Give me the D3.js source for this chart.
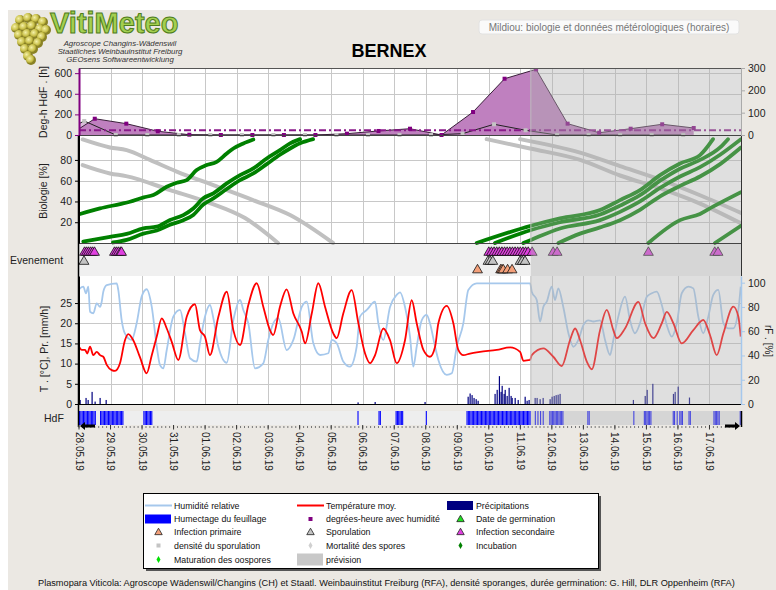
<!DOCTYPE html>
<html>
<head>
<meta charset="utf-8">
<script src="https://cdn.jsdelivr.net/npm/d3@7"></script>
<style>
  body { margin: 0; background: #fff; }
  text { font-family: "Liberation Sans", Arial, sans-serif; }
</style>
</head>
<body>
<svg id="chart"></svg>
<script>
// ---- data (hours counted from 28.05.19 00:00) ----
const startDay = new Date(2019, 4, 28);
const endDay = new Date(2019, 5, 18);
const forecastHour = 344;

// degree-hours with leaf wetness (purple) and second series (grey markers)
const degPurple = [[0,60],[12,158],[36,110],[60,36],[84,3],[108,0],[132,0],[156,0],[180,0],[204,13],[228,39],[252,61],[276,0],[300,223],[324,546],[348,637],[372,110],[396,22],[420,61],[444,104],[468,68]];
const degGrey = [[0,110],[4,136],[28,0],[52,0],[76,0],[100,0],[124,0],[148,0],[172,0],[196,0],[220,0],[244,0],[268,0],[292,13],[316,104],[340,46],[364,0],[388,0],[412,0],[436,0],[460,0]];
const degThreshold = 45;

// biology curves [hour, %]
const sporeGrey1 = [[2.8,99.7],[23.6,92],[36.3,89.4],[54,80],[74.4,68.8],[104.8,54.5],[132.5,41.3],[160.7,26.9],[193.4,0]];
const sporeGrey2 = [[2.8,75],[23.6,67],[35.8,64.4],[69.3,51],[99.7,38.5],[126.4,24],[151.5,0]];
const sporeGrey3 = [[310.4,100],[343.4,91],[381.5,80],[411.9,65],[442.4,52.6],[472.8,38],[504,19]];
const sporeGrey4 = [[335.8,100],[381.5,87],[411.9,74],[442.4,61],[472.8,46],[504,29]];
const incubA = [[0.8,27.9],[16,33.3],[31.2,37.5],[38.8,39.7],[49.3,44],[56.6,46.2],[66.8,54.1],[74.4,58],[82,60.6],[89.6,70.2],[97.2,75],[104.8,78.2],[112.5,86.2],[117.5,91],[125.1,95.9],[132.7,99.7]];
const incubB1 = [[3.3,1.3],[23.6,6],[36.3,8.7],[49,14.1],[59.2,15.7],[69.3,22.1],[79.4,26.9],[87,33.3],[94.6,43],[102.3,47.8],[112.5,57.4],[122.6,65.4],[132.7,71.8],[142.9,81.4],[153,89.4],[160.7,95.9],[168.3,100]];
const incubB2 = [[25.9,0.5],[36.3,3],[49,9],[59.2,12],[69.3,17.5],[79.4,22],[87,27],[94.6,37],[102.3,43],[112.5,52],[122.6,60.5],[132.7,67],[142.9,76],[153,85],[160.7,91],[168.3,96],[178.2,100]];
const incubC1 = [[302.8,0],[344.1,16.6],[366.2,23.7],[396.7,31.7],[411.9,41.3],[427.1,51],[442.4,65.4],[457.6,76.6],[472.8,84.6],[482.7,100]];
const incubC2 = [[316.7,0],[344.1,12.5],[366.2,20],[396.7,27.5],[411.9,36],[427.1,46],[442.4,60],[457.6,71.5],[472.8,80],[488.1,92],[494.1,100]];
const incubC3 = [[338.3,0],[344.1,3],[366.2,14],[396.7,22],[411.9,30],[427.1,40],[442.4,53],[457.6,64],[472.8,73],[488.1,85],[504,100]];
const incubC4 = [[365,0],[381.5,9],[396.7,15],[411.9,22],[427.1,32],[442.4,45],[457.6,55],[472.8,64],[488.1,76],[504,92]];
const incubD = [[433.5,0],[457.6,22],[472.8,28],[482.7,35],[504,49]];
const incubE = [[484.2,0],[504,16.6]];

// events
const infSecondaire = [4.2,5.7,7.2,8.8,10.3,11.8,27,28.5,30,31.6,32.4,312,314,316,318,320,322,324,326,328,330,332,334,336,338,340,342,345,361,364,433.5,484,486.5];
const sporulation = [3.8,311.4,313,315,335.8,337.5,339.6];
const infPrimaire = [303.4,321,322,323,326.3,329.7];

// weather [hour, value]
const temperature = [[0,14.2],[2.1,13.4],[4.6,13.4],[6.3,12.5],[8.4,14.2],[10.9,12.1],[13.5,12.9],[16,12.1],[18.5,11.7],[21.1,9.7],[24.9,8.4],[27.4,8.2],[31.2,10.1],[35,15.8],[37.5,17.3],[41.3,15.8],[46.4,11.6],[51.5,7.6],[55.4,12.1],[59.2,16.7],[63,21.2],[66.8,18.7],[70.6,15.4],[75.6,10.9],[82,21.6],[88.3,24.7],[92.1,18.3],[95.9,16.7],[99.7,12.1],[106.1,21.6],[112.5,27.8],[117.5,18.3],[122.6,14.6],[128.9,24.5],[135.3,29.9],[140.3,24.1],[145.4,18.3],[147.9,17.1],[153,24.1],[158.1,28.4],[163.2,22.4],[169.6,17.9],[172.1,15],[177.2,22.4],[182.2,29.9],[187.3,24.1],[193.6,17.5],[196.2,16.3],[201.2,22.4],[207.6,28.2],[212.7,20],[217.8,12.5],[221.6,10.1],[225.4,12.1],[231.7,18.7],[236.8,15.8],[241.9,10.1],[248.2,15.8],[253.3,25.7],[257.1,20],[262.2,13.4],[267.2,11.7],[271.1,14.2],[273.6,20],[280,24.3],[285,20],[288.8,13.4],[292.6,12.1],[297.7,12.5],[305.3,12.9],[318,13.4],[328.2,14],[335.8,12.9],[338.3,10.7],[343.4,10.9],[344.7,12.1],[353.5,13.8],[361.1,11.7],[367.5,9.4],[373.8,15.8],[377.7,18.7],[381.5,15.8],[386.6,10.5],[390.4,8.6],[396.7,18.3],[401.8,23.3],[406.8,18.3],[409.4,16.3],[415.7,18.7],[425.9,25.3],[431,20],[437.3,16.3],[443.7,20],[447.5,22.8],[452.5,20],[458.9,15],[467.7,18.3],[475.3,20.8],[480.4,17.1],[485.5,12.1],[490.6,17.5],[498.2,24.1],[502,21.6],[503.8,16.7]];
const humidity = [[0,94.6],[3.3,96.7],[5.3,91.3],[7.1,96.7],[8.4,76],[10.9,74.8],[13.5,83],[16,80],[17.3,84.3],[18.5,92.6],[21.1,98],[28.7,99.5],[29.9,94],[32.5,69],[35,58],[40.1,52.8],[43.9,66.5],[47.7,88.5],[51.5,94.6],[55.4,80],[59.2,47.2],[61.7,32],[64.2,29.4],[66.8,44.5],[71.8,72],[76.9,77.5],[80.7,58.3],[84.5,37.7],[89.6,35],[92.1,50],[95.9,72],[99.7,81.6],[102.3,70.7],[106.1,47.2],[112.5,34],[117.5,69],[122.6,85.7],[125.1,77.5],[128.9,66.5],[134,29.4],[140.3,33.5],[144.1,52.8],[147.9,66.5],[151.7,70.7],[158.1,44.5],[163.2,52.8],[169.6,80],[173.4,84.3],[178.4,50],[183.5,40.4],[189.8,41.8],[192.4,52.8],[196.2,50],[201.2,35],[206.3,30.8],[211.4,47.2],[213.9,72],[219.1,77.5],[225.4,84.3],[227.9,66.5],[231.7,52.8],[236.8,80],[241.9,90],[244.4,92],[248.2,80],[252,55.5],[254.5,30.8],[257.1,47.2],[260.9,69],[264.7,73.4],[267.2,66.5],[271.1,47.2],[273.6,36.3],[280,24],[283.8,25.3],[287.6,47.2],[292.6,66.5],[296.4,94],[302.8,99.5],[343.4,99.5],[344.7,92.6],[348.5,85.7],[351,68],[353.5,80],[356.1,84.3],[359.9,96.7],[362.4,85.7],[364.9,95.3],[368.7,80],[372.6,58.3],[376.4,47.2],[380.2,52.8],[384,65],[387.8,69],[391.6,68],[396.7,69],[400.5,52.8],[404.3,40.4],[406.8,52.8],[410.6,72],[415.7,88.5],[419.5,69],[423.3,58.3],[427.1,66.5],[432.3,88.5],[436.1,91.3],[439.9,92.6],[443.7,81.6],[447.5,65],[451.3,55.5],[455.1,66.5],[458.9,91.3],[464,96.7],[467.7,95.3],[471.5,72],[475.3,58.3],[479.1,72],[482.9,90],[486.7,94],[490.6,66.5],[494.4,62.4],[498.2,62.4],[502,77.5],[503.8,96.7]];
const precipitation = [[0.8,1],[5.3,1.5],[6.9,1],[9.9,3],[12.2,0.6],[16,1.5],[20.6,1],[212.4,0.4],[225.4,0.5],[263.4,0.5],[296.2,1.8],[297.7,2.6],[299.2,2.2],[300.7,1.5],[302.3,1.2],[303.8,0.8],[316.7,2.5],[318.3,3.5],[320,6.9],[321.3,3],[322.1,4.5],[323.6,2.5],[324.4,3.5],[325.9,2],[327.4,4],[328.9,2],[329.7,1.5],[332,1.5],[334.3,1],[339.6,1.8],[341.1,0.8],[342.6,1],[347.2,1.5],[348.7,1.5],[351,1.2],[353.3,1.5],[358.6,1.2],[360.1,1.8],[361.7,2],[363.2,2.2],[364.7,2.3],[366.2,2.5],[422,1],[431,2],[432.5,3.5],[436.8,5],[452.5,2.5],[453.8,3],[456.1,4.3],[464.7,1.6]];
// leaf wetness periods [from hour, to hour]
const wetPeriods = [[0,12],[16,33],[49,55],[212,212],[228,229],[241,246],[264,264],[295,343],[347,347],[349,349],[351,351],[353,353],[358,368],[387,388],[422,422],[430,435],[452,453],[455,455],[457,459],[464,465],[483,487],[503,503]];

const legendItems = [
  ["Humidité relative", "line", "#a6c8ec"], ["Température moy.", "line", "#ff0000"], ["Précipitations", "rect", "#000080"],
  ["Humectage du feuillage", "rect", "#0000ff"], ["degrées-heure avec humidité", "square", "#800080"], ["Date de germination", "triangle", "#20e020"],
  ["Infection primaire", "triangle", "#f4a07a"], ["Sporulation", "triangle", "#c4c4c4"], ["Infection secondaire", "triangle", "#e040e0"],
  ["densité du sporulation", "square", "#c4c4c4"], ["Mortalité des spores", "diamond", "#d0d0d0"], ["Incubation", "diamond", "#008000"],
  ["Maturation des oospores", "diamond", "#00e000"], ["prévision", "grey", "#c8c8c8"]
];

// ---- layout ----
const W = 776, H = 590;
const X0 = 79, X1 = 741;
const topP = [68, 135], bioP = [135, 243], evP = [243, 276], tempP = [276, 404], hdfP = [411, 425];

const t = h => new Date(startDay.getTime() + h * 3600e3);
const x = d3.scaleTime().domain([startDay, endDay]).range([X0, X1]);
const xh = h => x(t(h));
const yDeg = d3.scaleLinear().domain([0, 650]).range([topP[1], topP[0]]);
const yDegR = d3.scaleLinear().domain([0, 300]).range([topP[1], topP[0]]);
const yBio = d3.scaleLinear().domain([0, 104]).range([bioP[1], bioP[0]]);
const yT = d3.scaleLinear().domain([0, 31.7]).range([tempP[1], tempP[0]]);
const yH = d3.scaleLinear().domain([0, 105.5]).range([tempP[1], tempP[0]]);

const svg = d3.select("#chart").attr("width", W).attr("height", H);
svg.append("rect").attr("width", W).attr("height", H).attr("fill", "#fff");
svg.append("rect").attr("x", 8).attr("y", 10).attr("width", W - 8).attr("height", H - 10).attr("fill", "#ebe8e3");

svg.append("clipPath").attr("id", "plotclip")
  .append("rect").attr("x", X0).attr("y", topP[0]).attr("width", X1 - X0).attr("height", hdfP[1] - topP[0]);

// panel backgrounds
function panelBg(p, fill) {
  svg.append("rect").attr("x", X0).attr("y", p[0]).attr("width", X1 - X0).attr("height", p[1] - p[0]).attr("fill", fill);
}
panelBg(topP, "#fff");
panelBg(bioP, "#fff");
panelBg(evP, "#f0f0f0");
panelBg(tempP, "#fff");
panelBg(hdfP, "#eeeeee");

// grid
const days = d3.timeDay.range(d3.timeDay.offset(startDay, 1), endDay);
const grid = svg.append("g").attr("stroke", "#c8c8c8").attr("stroke-width", 1);
[topP, bioP, tempP].forEach(p => {
  grid.selectAll(null).data(days).enter().append("line")
    .attr("x1", d => Math.round(x(d)) + 0.5).attr("x2", d => Math.round(x(d)) + 0.5)
    .attr("y1", p[0]).attr("y2", p[1]);
});
function hGrid(vals, scale) {
  grid.selectAll(null).data(vals).enter().append("line")
    .attr("x1", X0).attr("x2", X1)
    .attr("y1", d => Math.round(scale(d)) + 0.5).attr("y2", d => Math.round(scale(d)) + 0.5);
}
hGrid([200, 400, 600], yDeg);
hGrid([20, 40, 60, 80], yBio);
hGrid([5, 10, 15, 20, 25], yT);

const plot = svg.append("g").attr("clip-path", "url(#plotclip)");

// ---- top panel: degree hours ----
const area = d3.area().x(d => xh(d[0])).y0(topP[1]).y1(d => yDeg(d[1]));
const line = d3.line().x(d => xh(d[0])).y(d => yDeg(d[1]));
plot.append("path").datum(degGrey).attr("d", area).attr("fill", "#d9bcd9");
plot.append("path").datum(degPurple).attr("d", area).attr("fill", "#bf80bf");
plot.append("path").datum(degGrey).attr("d", line).attr("fill", "none").attr("stroke", "#222").attr("stroke-width", 1);
plot.append("path").datum(degPurple).attr("d", line).attr("fill", "none").attr("stroke", "#3a1f3a").attr("stroke-width", 1);
plot.append("line").attr("x1", X0).attr("x2", X1)
  .attr("y1", yDeg(degThreshold)).attr("y2", yDeg(degThreshold))
  .attr("stroke", "#8a1a8a").attr("stroke-width", 2).attr("stroke-dasharray", "7,3,2,3");
plot.selectAll(".gm").data(degGrey.slice(1)).enter().append("rect").attr("class", "gm")
  .attr("x", d => xh(d[0]) - 2).attr("y", d => yDeg(d[1]) - 2).attr("width", 4).attr("height", 4).attr("fill", "#c4c4c4");
plot.selectAll(".pm").data(degPurple.slice(1)).enter().append("rect").attr("class", "pm")
  .attr("x", d => xh(d[0]) - 2).attr("y", d => yDeg(d[1]) - 2).attr("width", 4).attr("height", 4).attr("fill", "#800080");

// ---- biology panel ----
const bioLine = d3.line().curve(d3.curveMonotoneX).x(d => xh(d[0])).y(d => yBio(d[1]));
[sporeGrey1, sporeGrey2, sporeGrey3, sporeGrey4].forEach(s => {
  plot.append("path").datum(s).attr("d", bioLine).attr("fill", "none")
    .attr("stroke", "#c0c0c0").attr("stroke-width", 4).attr("stroke-linecap", "round");
});
[incubA, incubB1, incubB2, incubC1, incubC2, incubC3, incubC4, incubD, incubE].forEach(s => {
  plot.append("path").datum(s).attr("d", bioLine).attr("fill", "none")
    .attr("stroke", "#008000").attr("stroke-width", 3.8).attr("stroke-linecap", "round");
});

// ---- events ----
const tri = d3.symbol().type(d3.symbolTriangle).size(42);
function eventRow(hours, cy, fill) {
  plot.selectAll(null).data(hours).enter().append("path")
    .attr("d", tri).attr("transform", h => `translate(${xh(h)},${cy})`)
    .attr("fill", fill).attr("stroke", "#111").attr("stroke-width", 0.8);
}
eventRow(infSecondaire, 252.5, "#e040e0");
eventRow(sporulation, 261.5, "#c4c4c4");
eventRow(infPrimaire, 270, "#f4a07a");

// ---- weather ----
plot.append("path").datum(humidity)
  .attr("d", d3.line().curve(d3.curveMonotoneX).x(d => xh(d[0])).y(d => yH(d[1])))
  .attr("fill", "none").attr("stroke", "#a6c8ec").attr("stroke-width", 1.8);
plot.append("path").datum(temperature)
  .attr("d", d3.line().curve(d3.curveMonotoneX).x(d => xh(d[0])).y(d => yT(d[1])))
  .attr("fill", "none").attr("stroke", "#ff0000").attr("stroke-width", 1.8);
plot.selectAll(".pr").data(precipitation).enter().append("rect").attr("class", "pr")
  .attr("x", d => xh(d[0]) - 0.5).attr("width", 1.2)
  .attr("y", d => yT(d[1])).attr("height", d => yT(0) - yT(d[1]))
  .attr("fill", "#000080");

// ---- leaf wetness strip ----
const wetHours = wetPeriods.flatMap(p => d3.range(p[0], p[1] + 1));
plot.selectAll(".wet").data(wetHours).enter().append("rect").attr("class", "wet")
  .attr("x", h => xh(h)).attr("width", 1.1)
  .attr("y", hdfP[0]).attr("height", hdfP[1] - hdfP[0])
  .attr("fill", "#0000ff");

// ---- forecast shading ----
const xf = xh(forecastHour);
[[topP[0], tempP[1]], hdfP].forEach(p => {
  svg.append("rect").attr("x", xf).attr("y", p[0]).attr("width", X1 - xf).attr("height", p[1] - p[0])
    .attr("fill", "rgb(175,175,175)").attr("fill-opacity", 0.4);
});
svg.append("line").attr("x1", xf).attr("x2", xf).attr("y1", topP[0]).attr("y2", evP[0])
  .attr("stroke", "#bdbdbd");
svg.append("line").attr("x1", xf).attr("x2", xf).attr("y1", tempP[0]).attr("y2", tempP[1])
  .attr("stroke", "#bdbdbd");

// ---- frames ----
const frame = svg.append("g");
frame.append("line").attr("x1", X0).attr("x2", X1).attr("y1", topP[0] + 0.5).attr("y2", topP[0] + 0.5).attr("stroke", "#555");
frame.append("line").attr("x1", X0).attr("x2", X1).attr("y1", topP[1] + 0.5).attr("y2", topP[1] + 0.5).attr("stroke", "#444");
frame.append("line").attr("x1", X0).attr("x2", X1).attr("y1", bioP[1] + 0.5).attr("y2", bioP[1] + 0.5).attr("stroke", "#444");
frame.append("line").attr("x1", X0).attr("x2", X1).attr("y1", tempP[1] + 0.5).attr("y2", tempP[1] + 0.5).attr("stroke", "#000");
frame.append("line").attr("x1", X1 + 0.5).attr("x2", X1 + 0.5).attr("y1", bioP[0]).attr("y2", evP[1]).attr("stroke", "#333");
frame.append("line").attr("x1", X0 - 0.5).attr("x2", X0 - 0.5).attr("y1", bioP[0]).attr("y2", hdfP[1] + 2).attr("stroke", "#000").attr("stroke-width", 1.5);

// axes
function styleAxis(g, color) {
  g.selectAll("text").attr("font-size", "10.5px").attr("fill", "#222")
    .attr("font-family", "'Liberation Sans', Arial, sans-serif");
  g.selectAll("line").attr("stroke", color);
  g.select(".domain").attr("stroke", color);
}
svg.append("g").attr("transform", `translate(${X0},0)`)
  .call(d3.axisLeft(yDeg).tickValues([0, 200, 400, 600]).tickSize(4).tickPadding(3).tickSizeOuter(0))
  .call(g => styleAxis(g, "#800080"))
  .call(g => g.select(".domain").attr("stroke-width", 2));
svg.append("g").attr("transform", `translate(${X1},0)`)
  .call(d3.axisRight(yDegR).tickValues([0, 100, 200, 300]).tickSize(4).tickPadding(3).tickSizeOuter(0))
  .call(g => styleAxis(g, "#aaa"));
svg.append("g").attr("transform", `translate(${X0},0)`)
  .call(d3.axisLeft(yBio).tickValues([20, 40, 60, 80]).tickSize(4).tickPadding(3).tickSizeOuter(0))
  .call(g => styleAxis(g, "#000"));
svg.append("g").attr("transform", `translate(${X0},0)`)
  .call(d3.axisLeft(yT).tickValues([0, 5, 10, 15, 20, 25]).tickSize(4).tickPadding(3).tickSizeOuter(0))
  .call(g => styleAxis(g, "#000"));
svg.append("g").attr("transform", `translate(${X1},0)`)
  .call(d3.axisRight(yH).tickValues([0, 20, 40, 60, 80, 100]).tickSize(4).tickPadding(3).tickSizeOuter(0))
  .call(g => styleAxis(g, "#a6c8ec"))
  .call(g => g.select(".domain").attr("stroke-width", 1.5));

// time axis below the wetness strip
const xAxis = svg.append("g").attr("transform", `translate(0,${hdfP[1]})`);
xAxis.selectAll(".minor").data(d3.timeHour.every(3).range(startDay, endDay)).enter().append("line")
  .attr("x1", d => x(d)).attr("x2", d => x(d)).attr("y1", 1).attr("y2", 3)
  .attr("stroke", "#777");
xAxis.selectAll(".major").data(d3.timeDay.range(startDay, endDay)).enter().append("line")
  .attr("x1", d => x(d)).attr("x2", d => x(d)).attr("y1", 0).attr("y2", 4.5)
  .attr("stroke", "#333");
xAxis.selectAll(".lbl").data(d3.timeDay.range(startDay, endDay)).enter().append("text")
  .attr("transform", d => `translate(${x(d)},7) rotate(90)`)
  .attr("dominant-baseline", "central")
  .attr("font-size", "10px").attr("fill", "#222")
  .text(d3.timeFormat("%d.%m.%y"));

// scroll arrows
svg.append("path").attr("d", `M${X0 + 16},${hdfP[1] - 0.5}L${X0 + 6},${hdfP[1] - 0.5}L${X0 + 6},${hdfP[1] - 3}L${X0 + 1},${hdfP[1] + 1}L${X0 + 6},${hdfP[1] + 5}L${X0 + 6},${hdfP[1] + 2.5}L${X0 + 16},${hdfP[1] + 2.5}Z`).attr("fill", "#000");
svg.append("line").attr("x1", X1 + 0.5).attr("x2", X1 + 0.5).attr("y1", hdfP[0]).attr("y2", hdfP[1] + 2).attr("stroke", "#000").attr("stroke-width", 1.5);
svg.append("path").attr("d", `M${X1 - 16},${hdfP[1] - 0.5}L${X1 - 6},${hdfP[1] - 0.5}L${X1 - 6},${hdfP[1] - 3}L${X1 - 1},${hdfP[1] + 1}L${X1 - 6},${hdfP[1] + 5}L${X1 - 6},${hdfP[1] + 2.5}L${X1 - 16},${hdfP[1] + 2.5}Z`).attr("fill", "#000");

// axis titles
function vTitle(txt, cx, cy, rot, size) {
  svg.append("text").attr("transform", `translate(${cx},${cy}) rotate(${rot})`)
    .attr("text-anchor", "middle").attr("dominant-baseline", "central")
    .attr("font-size", size || "10.5px").attr("fill", "#222").text(txt);
}
vTitle("Deg-h HdF . [h]", 43, 102, -90);
vTitle("Biologie [%]", 43, 191, -90);
vTitle("T . [°C], Pr. [mm/h]", 44, 349, -90);
vTitle("rF . [%]", 768, 341, 90, "10px");
svg.append("text").attr("x", 10).attr("y", 264).attr("font-size", "10.5px").attr("fill", "#222").text("Evenement");
svg.append("text").attr("x", 44).attr("y", 422).attr("font-size", "10.5px").attr("fill", "#222").text("HdF");

// ---- header ----
svg.append("text").attr("x", 389).attr("y", 57).attr("text-anchor", "middle")
  .attr("font-size", "18px").attr("font-weight", "bold").attr("fill", "#000").text("BERNEX");
svg.append("rect").attr("x", 479).attr("y", 20).attr("width", 260).attr("height", 14).attr("rx", 3)
  .attr("fill", "#fafafa").attr("stroke", "#e2e2e2");
svg.append("text").attr("x", 609).attr("y", 31).attr("text-anchor", "middle")
  .attr("font-size", "10px").attr("fill", "#777").text("Mildiou: biologie et données métérologiques (horaires)");

// logo
const grapes = svg.append("g");
const berries = [[20,20],[28,18],[36,19],[43,22],[16,28],[24,27],[32,26],[40,29],[46,30],[19,35],[27,34],[35,34],[42,37],[22,42],[30,41],[38,43],[25,49],[33,49],[28,56],[31,60]];
const grad = svg.append("defs").append("radialGradient").attr("id", "berry").attr("cx", "35%").attr("cy", "35%");
grad.append("stop").attr("offset", "0%").attr("stop-color", "#f4f0a8");
grad.append("stop").attr("offset", "70%").attr("stop-color", "#c8bf48");
grad.append("stop").attr("offset", "100%").attr("stop-color", "#8a8225");
grapes.selectAll("circle").data(berries).enter().append("circle")
  .attr("cx", d => d[0]).attr("cy", d => d[1]).attr("r", 5).attr("fill", "url(#berry)");
svg.append("text").attr("x", 50).attr("y", 33).attr("font-size", "29px").attr("font-weight", "bold")
  .attr("fill", "#a3cf50").attr("stroke", "#4f7d1c").attr("stroke-width", 1).text("VitiMeteo");
[["Agroscope Changins-Wädenswil", 46], ["Staatliches Weinbauinstitut Freiburg", 54], ["GEOsens Softwareentwicklung", 62]].forEach(r => {
  svg.append("text").attr("x", 120).attr("y", r[1]).attr("text-anchor", "middle")
    .attr("font-size", "7.8px").attr("font-style", "italic").attr("fill", "#333").text(r[0]);
});

// ---- legend ----
const lg = svg.append("g").attr("transform", "translate(143,493)");
lg.append("rect").attr("x", 3).attr("y", 3).attr("width", 455).attr("height", 75).attr("fill", "#555");
lg.append("rect").attr("x", 0.5).attr("y", 0.5).attr("width", 455).attr("height", 75).attr("fill", "#fff").attr("stroke", "#000");
const colX = [2, 154, 304], rowY = [12.5, 26, 39, 52.5, 66.5];
const entry = lg.selectAll(".entry").data(legendItems).enter().append("g")
  .attr("transform", (d, i) => `translate(${colX[i % 3]},${rowY[Math.floor(i / 3)]})`);
entry.each(function (d) {
  const g = d3.select(this);
  if (d[1] === "line") g.append("line").attr("x1", 0).attr("x2", 27).attr("stroke", d[2]).attr("stroke-width", 2);
  if (d[1] === "rect") g.append("rect").attr("x", 0).attr("y", -4.5).attr("width", 26).attr("height", 9).attr("fill", d[2]);
  if (d[1] === "grey") g.append("rect").attr("x", 0).attr("y", -6).attr("width", 26).attr("height", 12).attr("fill", d[2]);
  if (d[1] === "square") g.append("rect").attr("x", 11.5).attr("y", -2).attr("width", 4).attr("height", 4).attr("fill", d[2]);
  if (d[1] === "triangle") g.append("path").attr("d", d3.symbol().type(d3.symbolTriangle).size(24))
    .attr("transform", "translate(13.5,0.5)").attr("fill", d[2]).attr("stroke", "#222").attr("stroke-width", 0.8);
  if (d[1] === "diamond") g.append("path").attr("d", d3.symbol().type(d3.symbolDiamond).size(14))
    .attr("transform", "translate(13.5,0)").attr("fill", d[2]);
  g.append("text").attr("x", 29).attr("dy", "0.35em").attr("font-size", "8.8px").attr("fill", "#111").text(d[0]);
});

// footer
svg.append("text").attr("x", 38).attr("y", 586).attr("font-size", "9.2px").attr("fill", "#111")
  .text("Plasmopara Viticola: Agroscope Wädenswil/Changins (CH) et Staatl. Weinbauinstitut Freiburg (RFA), densité sporanges, durée germination: G. Hill, DLR Oppenheim (RFA)");
</script>
</body>
</html>
